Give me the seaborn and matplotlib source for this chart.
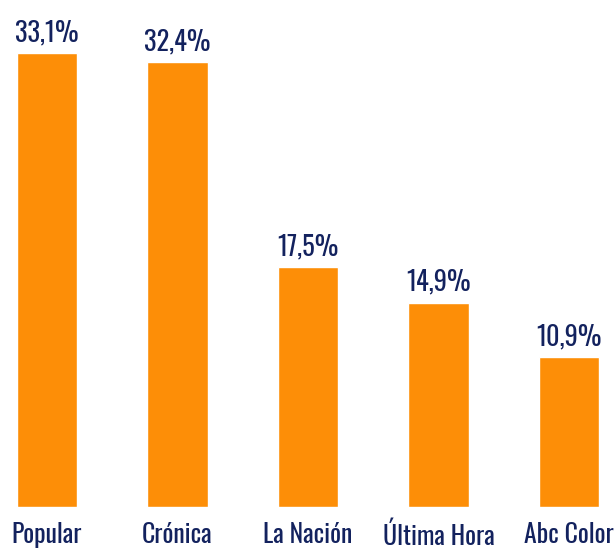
import pandas as pd
import seaborn as sns
import matplotlib.pyplot as plt

medios = ['Popular', 'Crónica', 'La Nación', 'Última Hora', 'Abc Color']
porcentaje = [33.1, 32.4, 17.5, 14.9, 10.9]
etiquetas = ['33,1%', '32,4%', '17,5%', '14,9%', '10,9%']

naranja = '#FD8E07'
azul = '#13225E'

sns.set_style('white')
plt.rcParams['font.family'] = ['Oswald', 'DejaVu Sans']

df = pd.DataFrame({'medio': medios, 'total': porcentaje})

fig = plt.figure(figsize=(6.15, 5.53), dpi=100)
ax = fig.add_axes([0, 46 / 553, 1, 507 / 553])

sns.barplot(data=df, x='medio', y='total', color=naranja, width=0.46,
            saturation=1, ax=ax)

ax.bar_label(ax.containers[0], labels=etiquetas, padding=5, color=azul,
             fontsize=19, fontweight='semibold')

ax.set_xlim(-47 / 130.5, (615 - 47) / 130.5)
ax.set_ylim(0, 507 / 13.72)
ax.set_xlabel('')
ax.set_ylabel('')
ax.set_yticks([])
ax.tick_params(axis='x', length=0, pad=11, labelsize=18.5, labelcolor=azul)
for t in ax.get_xticklabels():
    t.set_fontweight('semibold')
sns.despine(left=True, bottom=True)

fig.savefig('out.png', dpi=100)
